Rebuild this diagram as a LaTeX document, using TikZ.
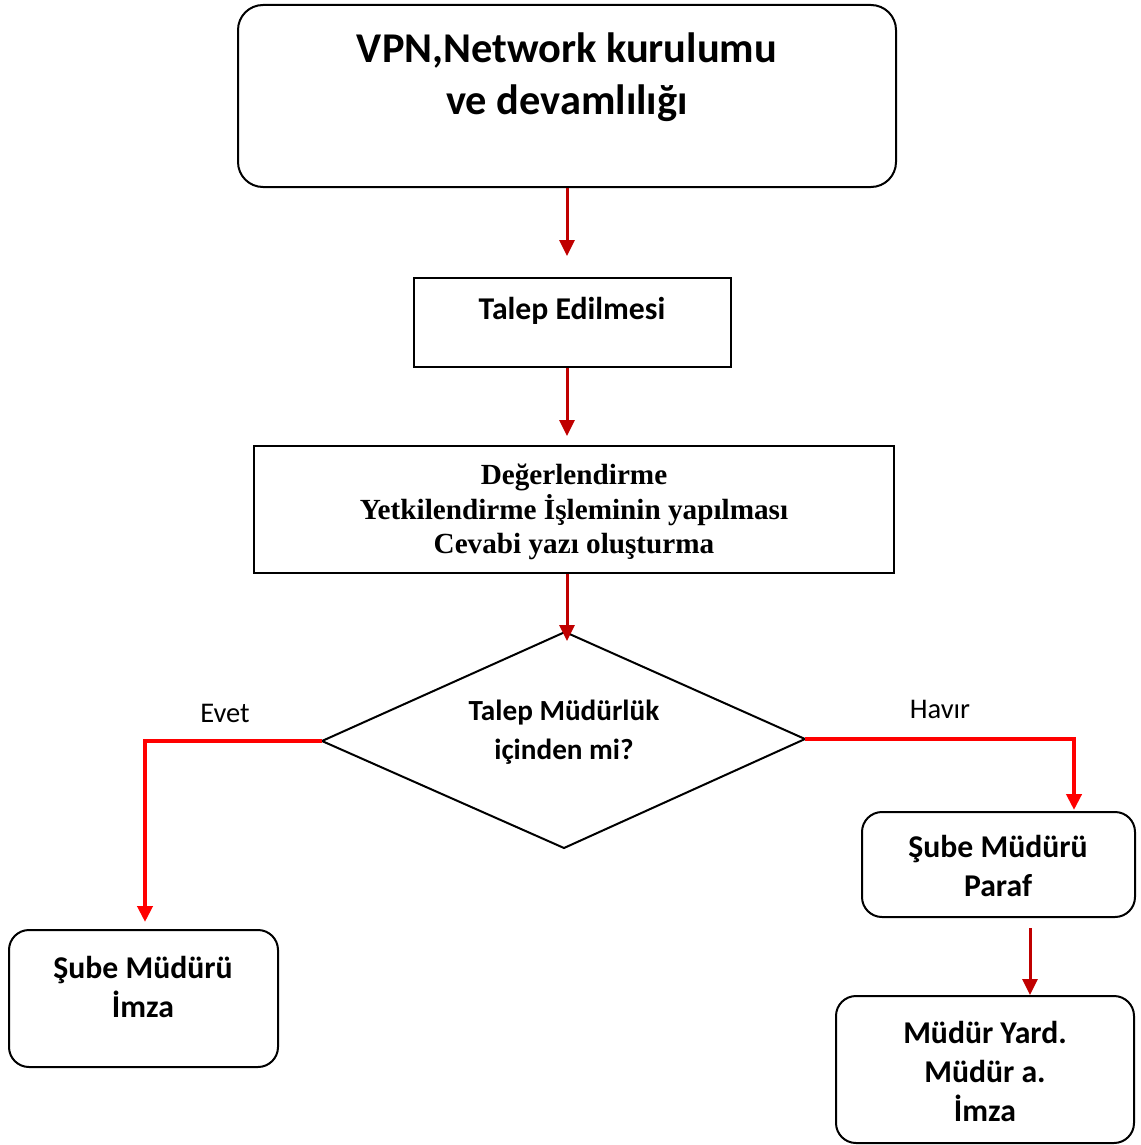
\documentclass[tikz,border=0pt]{standalone}
\usepackage{fontspec}
\setmainfont{Carlito}
\newfontfamily\serifb{Liberation Serif}
\usetikzlibrary{arrows.meta}
\definecolor{dred}{HTML}{C00000}
\definecolor{bred}{HTML}{FF0000}
\begin{document}
\begin{tikzpicture}[x=1pt,y=-1pt,
 box/.style={draw=black,line width=2pt,inner sep=0pt},
 rbox/.style={box,rounded corners=20pt},
 txt/.style={align=center,font=\bfseries\fontsize{31.7}{39}\selectfont},
 lbl/.style={font=\fontsize{28.5}{34}\selectfont},
 darr/.style={draw=dred,line width=3pt,-{Triangle[width=15pt,length=16pt]}},
 rarr/.style={draw=bred,line width=4pt,-{Triangle[width=15pt,length=16pt]}},
]
\useasboundingbox (0,0) rectangle (1140,1145);
% boxes
\node[rbox,rounded corners=25pt,minimum width=658pt,minimum height=182pt] (top) at (567,96) {};
\node[txt,font=\bfseries\fontsize{42.4}{52}\selectfont] (toptext) at (567,77) {VPN,Network kurulumu\\ve devamlılığı};
\node[box,minimum width=317pt,minimum height=89pt] (talep) at (572.5,322.5) {};
\node[txt] (talept) at (572,311) {Talep Edilmesi};
\node[box,minimum width=640pt,minimum height=127pt] (deger) at (574,509.5) {};
\node[align=center,font=\serifb\bfseries\fontsize{29.2}{34.5}\selectfont] (degert) at (574,512) {Değerlendirme\\Yetkilendirme İşleminin yapılması\\Cevabi yazı oluşturma};
% diamond
\coordinate (dn) at (565,632);
\coordinate (dw) at (322,741);
\coordinate (de) at (805,739);
\coordinate (ds) at (564,848);
\draw[line width=2pt,line join=miter] (dn) -- (de) -- (ds) -- (dw) -- cycle;
\node[txt,font=\bfseries\fontsize{29.2}{39}\selectfont] (diat) at (564,732) {Talep Müdürlük\\içinden mi?};
% lower boxes
\node[rbox,minimum width=269pt,minimum height=137pt] (left) at (143.5,998.5) {};
\node[txt] (leftt) at (143,987) {Şube Müdürü\\İmza};
\node[rbox,minimum width=273pt,minimum height=105pt] (r1) at (998.5,864.5) {};
\node[txt] (r1t) at (998,866) {Şube Müdürü\\Paraf};
\node[rbox,minimum width=298pt,minimum height=147pt] (r2) at (985,1069.5) {};
\node[txt] (r2t) at (985,1071) {Müdür Yard.\\Müdür a.\\İmza};
% labels
\node[lbl] (evet) at (225,713) {Evet};
\node[lbl] (hayir) at (940,709) {Havır};
% connectors
\draw[darr] (top.south -| 567,0) -- ++(0,68);
\draw[darr] (talep.south -| 567,0) -- ++(0,68);
\draw[darr] (deger.south -| 567,0) -- (567,641);
\coordinate (lc) at (145,741);
\draw[rarr] (dw) -- (lc) -- (145,922);
\coordinate (rc) at (1074,739);
\draw[rarr] (de) -- (rc) -- (1074,810);
\coordinate (r2s) at (1030,928);
\draw[darr] (r2s) -- (1030,995);
\end{tikzpicture}
\end{document}
